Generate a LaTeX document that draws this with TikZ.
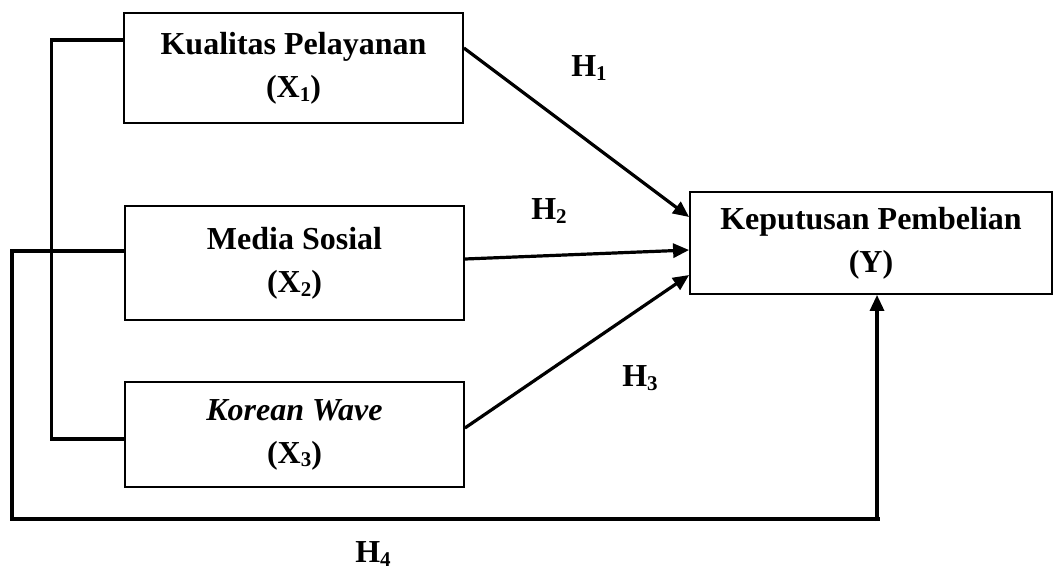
\documentclass[tikz,border=0pt]{standalone}
\usepackage{fontspec}
\setmainfont{Liberation Serif}
\usetikzlibrary{arrows.meta}
\newcommand\subd[1]{\raisebox{-0.12em}{\fontsize{21}{21}\selectfont #1}}
\tikzset{
  box/.style={draw, line width=1.8pt, minimum width=339pt, align=center, inner sep=0pt,
    font=\fontsize{32}{43}\selectfont\bfseries},
  conn/.style={line width=3.2pt},
  arr/.style={line width=3.2pt, -{Triangle[length=16pt,width=14pt]}},
  lab/.style={font=\fontsize{32}{36}\selectfont\bfseries, inner sep=0pt}
}
\begin{document}
\begin{tikzpicture}[x=1pt,y=-1pt]
\useasboundingbox (0,0) rectangle (1056,570);
\node[box, minimum height=110pt] (X1) at (293.5,68) {Kualitas Pelayanan\\(X\subd{1})};
\node[box, minimum height=114pt] (X2) at (294.5,263) {Media Sosial\\(X\subd{2})};
\node[box, minimum height=105pt] (X3) at (294.5,434.5) {\textit{Korean Wave}\\(X\subd{3})};
\node[box, minimum width=362pt, minimum height=102pt] (Y) at (871,243) {Keputusan Pembelian\\(Y)};
% bracket X1-X3
\draw[conn] (X1.west |- 0,40) -- (51.5,40) -- (51.5,439) -- (X3.west |- 0,439);
% H4 path
\draw[conn] (X2.west |- 0,251) -- (12,251) -- (12,519) -- (880,519);
\draw[arr] (877,521) -- (Y.south -| 877,0);
% H1-H3
\draw[arr] (X1.east |- 0,48) -- (Y.west |- 0,217);
\draw[arr] (X2.east |- 0,259) -- (Y.west |- 0,250);
\draw[arr] (X3.east |- 0,428) -- (Y.west |- 0,275);
% labels
\node[lab] (H1) at (589,68) {H\subd{1}};
\node[lab] (H2) at (549,211) {H\subd{2}};
\node[lab] (H3) at (640,378) {H\subd{3}};
\node[lab] (H4) at (373,554) {H\subd{4}};
\end{tikzpicture}
\end{document}
